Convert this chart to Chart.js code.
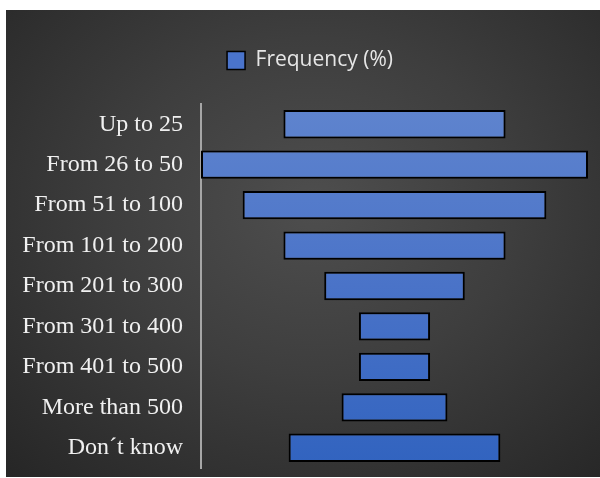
<!DOCTYPE html>
<html>
<head>
<meta charset="utf-8">
<script src="https://cdn.jsdelivr.net/npm/chart.js@4.4.1/dist/chart.umd.min.js"></script>
<style>
  html, body { margin: 0; padding: 0; background: #ffffff; }
  #panel {
    position: absolute; left: 6px; top: 10px; width: 594px; height: 467px;
    background: radial-gradient(ellipse 75% 80% at 52% 42%, #4e4e4e 0%, #3e3e3e 45%, #262626 100%);
  }
  canvas { display: block; }
</style>
</head>
<body>
<div id="panel"><canvas id="c" width="594" height="467"></canvas></div>
<script>
const categories = ["Up to 25", "From 26 to 50", "From 51 to 100", "From 101 to 200",
  "From 201 to 300", "From 301 to 400", "From 401 to 500", "More than 500", "Don\u00b4t know"];
const frequency = [12.8, 22.3, 17.5, 12.8, 8.1, 4.1, 4.1, 6.1, 12.2];
const seriesLabel = "Frequency (%)";

const halfMax = Math.max(...frequency) / 2;
const floating = frequency.map(v => [-v / 2, v / 2]);

function barGradient(ctx) {
  const chart = ctx.chart;
  const area = chart.chartArea;
  if (!area) return '#4a72c8';
  const g = chart.ctx.createLinearGradient(0, area.top, 0, area.bottom);
  g.addColorStop(0, '#5f84ce');
  g.addColorStop(0.5, '#4a73c8');
  g.addColorStop(1, '#3163bf');
  return g;
}

new Chart(document.getElementById('c'), {
  type: 'bar',
  data: {
    labels: categories,
    datasets: [{
      label: seriesLabel,
      data: floating,
      backgroundColor: barGradient,
      borderColor: '#000000',
      borderWidth: 2,
      borderSkipped: false,
      categoryPercentage: 1.0,
      barPercentage: 0.7
    }]
  },
  options: {
    indexAxis: 'y',
    responsive: false,
    animation: false,
    layout: { padding: { left: 14, right: 0, top: 0, bottom: 9 } },
    plugins: {
      tooltip: { enabled: false },
      legend: {
        display: true,
        position: 'top',
        labels: {
          color: '#e6e6e6',
          font: { family: "'Open Sans', 'DejaVu Sans', sans-serif", size: 21 },
          boxWidth: 18,
          boxHeight: 18,
          padding: 40,
          generateLabels: (chart) => [{
            text: seriesLabel,
            fillStyle: '#4a74cc',
            strokeStyle: '#000000',
            lineWidth: 1.5,
            fontColor: '#e6e6e6',
            datasetIndex: 0
          }]
        }
      }
    },
    scales: {
      x: {
        display: true,
        position: 'top',
        min: -halfMax,
        max: halfMax * (600 - 394.5) / (394.5 - 201),
        grid: { display: false, drawTicks: false },
        border: { display: false },
        ticks: { display: false },
        afterFit: (s) => { s.height = 23; }
      },
      y: {
        afterFit: (s) => { s.width = 181; s.paddingTop = 0; s.paddingBottom = 0; },
        grid: { display: false, drawTicks: false },
        border: { display: true, color: '#a6a6a6', width: 2 },
        ticks: {
          color: '#f0f0f0',
          padding: 18,
          font: { family: "'Liberation Serif', 'Times New Roman', serif", size: 24 }
        }
      }
    }
  }
});
</script>
</body>
</html>
